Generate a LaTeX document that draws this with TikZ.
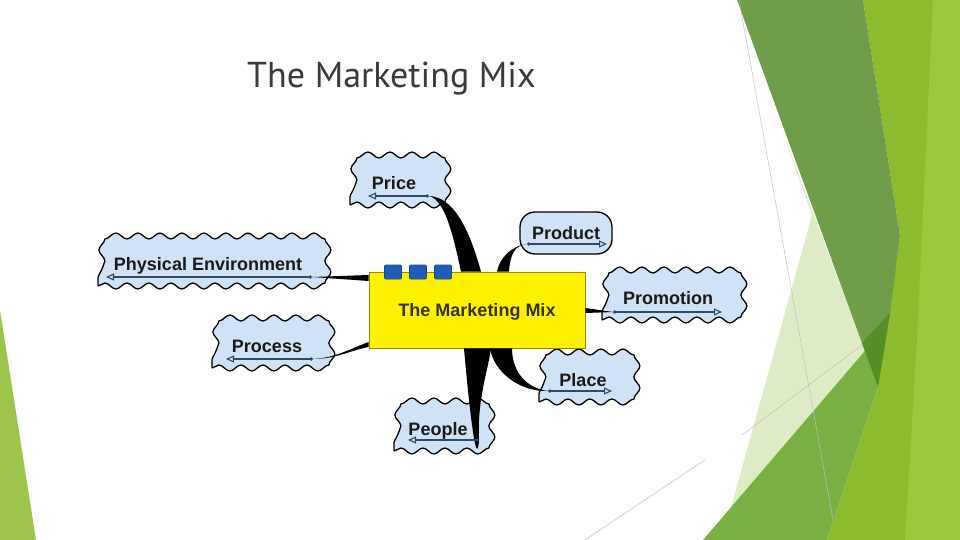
\documentclass[tikz,border=0pt]{standalone}
\usepackage{fontspec}
\setmainfont{Liberation Sans}
\newfontfamily\titlefont{PT Sans}
\usetikzlibrary{calc, arrows.meta, decorations.pathmorphing}
\definecolor{cloudblue}{HTML}{CFE2F6}
\definecolor{textdark}{HTML}{1A1A1A}
\definecolor{mixtext}{HTML}{333300}
\definecolor{mixline}{HTML}{8C8C00}
\definecolor{tabblue}{HTML}{1F5DB8}
\definecolor{tabline}{HTML}{17478F}
\definecolor{linedark}{HTML}{2F4A65}
\definecolor{titlegrey}{HTML}{3A3A3A}
\definecolor{panelyg}{HTML}{8CBC2E}
\definecolor{panellight}{HTML}{9BC83F}
\definecolor{panelpale}{HTML}{DDEBC6}
\definecolor{panelolive}{HTML}{6F9D49}
\definecolor{panelmid}{HTML}{78B044}
\definecolor{paneldark}{HTML}{538E26}
\definecolor{panelleft}{HTML}{9CC54A}
\tikzstyle{bubble} = [rectangle, draw=black, line width=1.3pt, fill=cloudblue, decorate, decoration={snake, amplitude=3pt, segment length=22pt}, minimum height=44pt, text=textdark, font=\bfseries\fontsize{18}{20}\selectfont, text height=13pt, text depth=0pt, inner sep=0pt]
\tikzstyle{oval} = [draw=black, line width=1.3pt, fill=cloudblue, rounded corners=15pt, text=textdark, font=\bfseries\fontsize{18}{20}\selectfont, text height=13pt, text depth=0pt, inner sep=0pt]
\tikzstyle{mixbox} = [rectangle, draw=mixline, line width=0.8pt, fill=yellow, minimum width=216pt, minimum height=76pt, text=mixtext, font=\bfseries\fontsize{18}{20}\selectfont, text height=13pt, text depth=0pt]
\tikzstyle{tabsq} = [rectangle, rounded corners=1pt, draw=tabline, line width=0.6pt, fill=tabblue, minimum width=17pt, minimum height=14pt, inner sep=0pt]
\tikzstyle{branch} = [fill=black]
\tikzstyle{underline} = [draw=linedark, line width=1.1pt, {Circle[open, length=3.5pt]}-{Triangle[open, length=8pt, width=7pt]}]
\tikzstyle{faint} = [draw=black!25, line width=0.5pt]

\begin{document}
\begin{tikzpicture}[x=1pt, y=-1pt]
    \useasboundingbox (0,0) rectangle (960,540);
    % green panels
    \fill [panelyg] (863,0) -- (960,0) -- (960,540) -- (827,540) -- (878,387) -- (900,235) -- cycle;
    \fill [panellight] (933,0) -- (960,0) -- (960,540) -- (905,540) -- (917,340) -- cycle;
    \fill [panelpale] (780,125) -- (878,385) -- (760,540) -- (722,540) -- (812,215) -- cycle;
    \fill [panelolive] (737,0) -- (863,0) -- (900,235) -- (890,313) -- (878,387) -- cycle;
    \fill [panelmid] (703,540) -- (870,345) -- (878,387) -- (827,540) -- cycle;
    \fill [paneldark] (862,343) -- (890,313) -- (878,387) -- cycle;
    \fill [panelleft] (0,310) -- (36,540) -- (0,540) -- cycle;
    \draw [faint] (739,0) -- (833,520);
    \draw [faint] (585,540) -- (705,460);
    \draw [faint] (742,435) -- (862,345);

    \node (title) [anchor=base west, inner sep=0pt, text=titlegrey, font=\titlefont\fontsize{36}{40}\selectfont] at (247,88) {The Marketing Mix};

    \node (price) [bubble, minimum width=88pt] at (394,183) {Price};
    \node (product) [oval, minimum width=92pt, minimum height=42pt] at (566,233) {Product};
    \node (physenv) [bubble, minimum width=220pt] at (208,264) {Physical Environment};
    \node (promotion) [bubble, minimum width=132pt] at (668,298) {Promotion};
    \node (process) [bubble, minimum width=110pt] at (267,346) {Process};
    \node (place) [bubble, minimum width=88pt] at (583,380) {Place};
    \node (people) [bubble, minimum width=88pt] at (438,429) {People};

    \node (mix) [mixbox] at (477,310) {The Marketing Mix};
    \foreach \i/\x in {1/393, 2/418, 3/443}
        \node (tab\i) [tabsq] at (\x,272) {};

    % where each branch meets its topic
    \coordinate (price-in) at ($(price)+(35,13)$);
    \coordinate (product-in) at ($(product)+(-39,11)$);
    \coordinate (physenv-in) at ($(physenv)+(104,13)$);
    \coordinate (promotion-in) at ($(promotion)+(-55,14)$);
    \coordinate (process-in) at ($(process)+(46,13)$);
    \coordinate (place-in) at ($(place)+(-35,11)$);
    \coordinate (people-in) at ($(people)+(41,11)$);

    % Branches
    \fill [branch] (price-in) .. controls +(23,1) and +(-13,-47) .. ($(mix.north)+(4,0)$) -- ($(mix.north)+(-16,0)$) .. controls +(-8,-37) and +(16,4) .. (price-in) -- cycle;
    \fill [branch] (product-in) .. controls +(-12,1) and +(1,-17) .. ($(mix.north)+(32,0)$) -- ($(mix.north)+(20,0)$) .. controls +(2,-12) and +(-17,2) .. (product-in) -- cycle;
    \fill [branch] (physenv-in) -- ($(mix.west)+(0,-35)$) -- ($(mix.west)+(0,-29)$) -- cycle;
    \fill [branch] (process-in) .. controls +(22,-1) and +(-19,7) .. ($(mix.west)+(0,32)$) -- ($(mix.west)+(0,37)$) .. controls +(-17,3) and +(23,0) .. (process-in) -- cycle;
    \fill [branch] (promotion-in) -- ($(mix.east)+(0,-2)$) -- ($(mix.east)+(0,3)$) -- cycle;
    \fill [branch] (place-in) .. controls +(-23,-3) and +(0,22) .. ($(mix.south)+(35,0)$) -- ($(mix.south)+(13,0)$) .. controls +(4,24) and +(-28,1) .. (place-in) -- cycle;
    \fill [branch] (people-in) .. controls +(-2,-40) and +(-3,22) .. ($(mix.south)+(14,0)$) -- ($(mix.south)+(-13,0)$) .. controls +(2,24) and +(-3,40) .. (people-in) -- cycle;

    % underline arrows
    \draw [underline] (price-in) -- ($(price)+(-26,13)$);
    \draw [underline] (product-in) -- ($(product)+(41,11)$);
    \draw [underline] (physenv-in) -- ($(physenv)+(-102,13)$);
    \draw [underline] (promotion-in) -- ($(promotion)+(54,14)$);
    \draw [underline] (process-in) -- ($(process)+(-41,13)$);
    \draw [underline] (place-in) -- ($(place)+(29,11)$);
    \draw [underline] (people-in) -- ($(people)+(-30,11)$);
\end{tikzpicture}
\end{document}
